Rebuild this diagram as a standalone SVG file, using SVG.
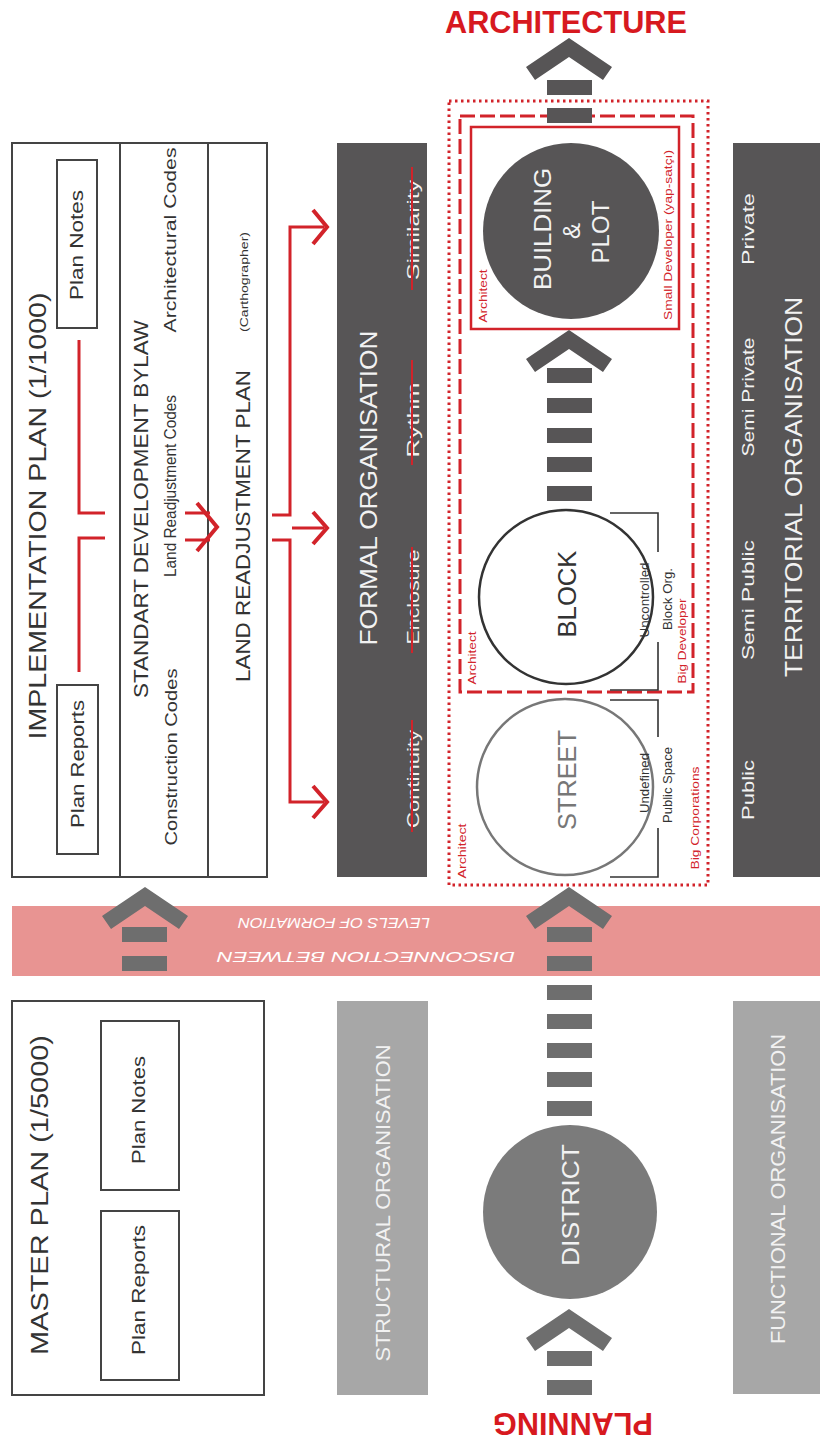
<svg xmlns="http://www.w3.org/2000/svg" width="820" height="1446" viewBox="0 0 820 1446">
<style>
text{font-family:"Liberation Sans","DejaVu Sans",sans-serif}
.box{fill:#fff;stroke:#444;stroke-width:2}
.ink{fill:#333}
.wt{fill:#f2f2f2}
.rt{fill:#d2232a}
.rl{fill:none;stroke:#d2232a;stroke-width:3}
.rh{fill:none;stroke:#d2232a;stroke-width:4}
.dark{fill:#575556}
.lg{fill:#a7a7a7}
.brk{fill:none;stroke:#333;stroke-width:1.6}
.strike{stroke:#d2232a;stroke-width:2}
.a1{fill:#575556}
.a2{fill:#6e6e6e}
</style>
<defs>
<path id="chev" d="M0,0 L-43,29 L-34,42 L0,19 L34,42 L43,29 Z"/>
<rect id="bar" x="-22.5" y="0" width="45" height="15"/>
</defs>

<!-- Implementation plan -->
<g id="implementation-plan">
<rect class="box" x="12" y="143" width="255" height="734"/>
<line x1="120" y1="143" x2="120" y2="877" stroke="#444" stroke-width="2"/>
<line x1="208" y1="143" x2="208" y2="877" stroke="#444" stroke-width="2"/>
<rect class="box" x="57" y="160" width="40" height="168"/>
<rect class="box" x="57" y="685" width="41" height="169"/>
<g class="ink" text-anchor="middle" dominant-baseline="central">
<text transform="translate(37,516) rotate(-90)" font-size="24" textLength="447" lengthAdjust="spacingAndGlyphs">IMPLEMENTATION PLAN (1/1000)</text>
<text transform="translate(77,245) rotate(-90)" font-size="18" textLength="110" lengthAdjust="spacingAndGlyphs">Plan Notes</text>
<text transform="translate(78,764) rotate(-90)" font-size="18" textLength="128" lengthAdjust="spacingAndGlyphs">Plan Reports</text>
<text transform="translate(141,509) rotate(-90)" font-size="20" textLength="378" lengthAdjust="spacingAndGlyphs">STANDART DEVELOPMENT BYLAW</text>
<text transform="translate(170,240) rotate(-90)" font-size="17" textLength="185" lengthAdjust="spacingAndGlyphs">Architectural Codes</text>
<text transform="translate(170,486) rotate(-90)" font-size="16" textLength="182" lengthAdjust="spacingAndGlyphs">Land Readjustment Codes</text>
<text transform="translate(171,757) rotate(-90)" font-size="17" textLength="177" lengthAdjust="spacingAndGlyphs">Construction Codes</text>
<text transform="translate(243,526) rotate(-90)" font-size="20" textLength="312" lengthAdjust="spacingAndGlyphs">LAND READJUSTMENT PLAN</text>
<text transform="translate(244,282) rotate(-90)" font-size="11" textLength="100" lengthAdjust="spacingAndGlyphs">(Carthographer)</text>
</g>
</g>

<!-- Formal organisation -->
<g id="formal-organisation">
<rect class="dark" x="337" y="143" width="90" height="734"/>
<g class="wt" text-anchor="middle" dominant-baseline="central">
<text transform="translate(368,488) rotate(-90)" font-size="24" textLength="315" lengthAdjust="spacingAndGlyphs">FORMAL ORGANISATION</text>
<text transform="translate(413,230) rotate(-90)" font-size="17" textLength="100" lengthAdjust="spacingAndGlyphs">Similarity</text>
<text transform="translate(413,420) rotate(-90)" font-size="17" textLength="75" lengthAdjust="spacingAndGlyphs">Rythm</text>
<text transform="translate(413,597) rotate(-90)" font-size="17" textLength="95" lengthAdjust="spacingAndGlyphs">Enclosure</text>
<text transform="translate(413,779) rotate(-90)" font-size="17" textLength="98" lengthAdjust="spacingAndGlyphs">Continuity</text>
</g>
<line class="strike" x1="412" y1="167" x2="412" y2="290"/>
<line class="strike" x1="412" y1="360" x2="412" y2="465"/>
<line class="strike" x1="412" y1="547" x2="412" y2="653"/>
<line class="strike" x1="412" y1="720" x2="412" y2="832"/>
</g>

<!-- Territorial organisation -->
<g id="territorial-organisation">
<rect class="dark" x="733" y="143" width="87" height="734"/>
<g class="wt" text-anchor="middle" dominant-baseline="central">
<text transform="translate(793,487) rotate(-90)" font-size="24" textLength="380" lengthAdjust="spacingAndGlyphs">TERRITORIAL ORGANISATION</text>
<text transform="translate(748,229) rotate(-90)" font-size="17" textLength="72" lengthAdjust="spacingAndGlyphs">Private</text>
<text transform="translate(748,397) rotate(-90)" font-size="17" textLength="119" lengthAdjust="spacingAndGlyphs">Semi Private</text>
<text transform="translate(748,600) rotate(-90)" font-size="17" textLength="120" lengthAdjust="spacingAndGlyphs">Semi Public</text>
<text transform="translate(748,790) rotate(-90)" font-size="17" textLength="60" lengthAdjust="spacingAndGlyphs">Public</text>
</g>
</g>

<!-- Actor frames -->
<g id="frames">
<rect x="449" y="101" width="259" height="784" fill="none" stroke="#d2232a" stroke-width="3" stroke-dasharray="2.5 3.5"/>
<rect x="460" y="116" width="233" height="576" fill="none" stroke="#d2232a" stroke-width="3" stroke-dasharray="15 5"/>
<rect x="471" y="127" width="208" height="202" fill="none" stroke="#d2232a" stroke-width="2.5"/>
</g>

<!-- Building & plot -->
<g id="building-plot">
<circle cx="571" cy="231" r="88" fill="#575556"/>
<g class="wt" text-anchor="middle" dominant-baseline="central" font-size="24">
<text transform="translate(542,229) rotate(-90)" textLength="122" lengthAdjust="spacingAndGlyphs">BUILDING</text>
<text transform="translate(571,231) rotate(-90)">&amp;</text>
<text transform="translate(600,232) rotate(-90)" textLength="63" lengthAdjust="spacingAndGlyphs">PLOT</text>
</g>
<g class="rt" text-anchor="middle" dominant-baseline="central" font-size="11">
<text transform="translate(483,296) rotate(-90)" textLength="53" lengthAdjust="spacingAndGlyphs">Architect</text>
<text transform="translate(668,235) rotate(-90)" textLength="170" lengthAdjust="spacingAndGlyphs">Small Developer (yap-satçı)</text>
</g>
</g>

<!-- Block -->
<g id="block">
<circle cx="566" cy="597" r="87" fill="#fff" stroke="#333" stroke-width="2.5"/>
<text class="ink" transform="translate(567,594) rotate(-90)" text-anchor="middle" dominant-baseline="central" font-size="26" textLength="87" lengthAdjust="spacingAndGlyphs">BLOCK</text>
<path class="brk" d="M610,513 H658 V552 M658,642 V690 H610"/>
<g class="ink" text-anchor="middle" dominant-baseline="central" font-size="12">
<text transform="translate(645,600) rotate(-90)" textLength="75" lengthAdjust="spacingAndGlyphs">Uncontrolled</text>
<text transform="translate(668,599) rotate(-90)" textLength="62" lengthAdjust="spacingAndGlyphs">Block Org.</text>
</g>
<g class="rt" text-anchor="middle" dominant-baseline="central" font-size="11">
<text transform="translate(472,658) rotate(-90)" textLength="53" lengthAdjust="spacingAndGlyphs">Architect</text>
<text transform="translate(682,641) rotate(-90)" textLength="85" lengthAdjust="spacingAndGlyphs">Big Developer</text>
</g>
</g>

<!-- Street -->
<g id="street">
<circle cx="565" cy="787" r="88" fill="#fff" stroke="#777" stroke-width="2.5"/>
<text transform="translate(567,780) rotate(-90)" fill="#777" text-anchor="middle" dominant-baseline="central" font-size="26" textLength="100" lengthAdjust="spacingAndGlyphs">STREET</text>
<path class="brk" d="M610,700 H658 V737 M658,828 V877 H610"/>
<g class="ink" text-anchor="middle" dominant-baseline="central" font-size="12">
<text transform="translate(645,783) rotate(-90)" textLength="60" lengthAdjust="spacingAndGlyphs">Undefined</text>
<text transform="translate(668,785) rotate(-90)" textLength="76" lengthAdjust="spacingAndGlyphs">Public Space</text>
</g>
<g class="rt" text-anchor="middle" dominant-baseline="central" font-size="11">
<text transform="translate(462,851) rotate(-90)" textLength="55" lengthAdjust="spacingAndGlyphs">Architect</text>
<text transform="translate(695,818) rotate(-90)" textLength="103" lengthAdjust="spacingAndGlyphs">Big Corporations</text>
</g>
</g>

<!-- Disconnection band -->
<g id="disconnection-band">
<rect x="12" y="906" width="808" height="70" fill="#e89492"/>
<g fill="#fff" text-anchor="middle" dominant-baseline="central" font-size="15" font-style="italic">
<text transform="translate(334,923) rotate(180)" textLength="192" lengthAdjust="spacingAndGlyphs">LEVELS OF FORMATION</text>
<text transform="translate(366,957) rotate(180)" textLength="298" lengthAdjust="spacingAndGlyphs">DISCONNECTION BETWEEN</text>
</g>
</g>

<!-- District -->
<g id="district">
<circle cx="570" cy="1212" r="87" fill="#7b7b7b"/>
<text class="wt" transform="translate(570,1205) rotate(-90)" text-anchor="middle" dominant-baseline="central" font-size="24" textLength="122" lengthAdjust="spacingAndGlyphs">DISTRICT</text>
</g>

<!-- Master plan -->
<g id="master-plan">
<rect class="box" x="12" y="1001" width="252" height="394"/>
<rect class="box" x="101" y="1021" width="78" height="169"/>
<rect class="box" x="101" y="1211" width="78" height="169"/>
<g class="ink" text-anchor="middle" dominant-baseline="central">
<text transform="translate(40,1195) rotate(-90)" font-size="23" textLength="320" lengthAdjust="spacingAndGlyphs">MASTER PLAN (1/5000)</text>
<text transform="translate(139,1110) rotate(-90)" font-size="18" textLength="108" lengthAdjust="spacingAndGlyphs">Plan Notes</text>
<text transform="translate(139,1290) rotate(-90)" font-size="18" textLength="130" lengthAdjust="spacingAndGlyphs">Plan Reports</text>
</g>
</g>

<!-- Structural organisation -->
<g id="structural-organisation">
<rect class="lg" x="337" y="1001" width="91" height="394"/>
<text class="wt" transform="translate(383,1203) rotate(-90)" text-anchor="middle" dominant-baseline="central" font-size="20" textLength="317" lengthAdjust="spacingAndGlyphs">STRUCTURAL ORGANISATION</text>
</g>

<!-- Functional organisation -->
<g id="functional-organisation">
<rect class="lg" x="733" y="1001" width="87" height="393"/>
<text class="wt" transform="translate(778,1189) rotate(-90)" text-anchor="middle" dominant-baseline="central" font-size="20" textLength="310" lengthAdjust="spacingAndGlyphs">FUNCTIONAL ORGANISATION</text>
</g>

<!-- Titles -->
<g id="architecture-title">
<text x="566" y="33" text-anchor="middle" font-size="31" font-weight="bold" fill="#d7191f" textLength="242" lengthAdjust="spacingAndGlyphs">ARCHITECTURE</text>
</g>
<g id="planning-title">
<text transform="translate(573,1423) rotate(180)" text-anchor="middle" dominant-baseline="central" font-size="31" font-weight="bold" fill="#d7191f" textLength="160" lengthAdjust="spacingAndGlyphs">PLANNING</text>
</g>

<!-- Connectors -->
<g id="connectors">
<path class="rl" d="M79,340 V513 H105 M105,538 H79 V672"/>
<path class="rl" d="M185,513 H210 M185,540 H210"/>
<path class="rh" d="M197,503 L217,527 L197,551"/>
<path class="rl" d="M272,515 H290 V227 H324 M272,540 H290 V802 H324 M292,528 H324"/>
<path class="rh" d="M313,210 L327,227 L313,244"/>
<path class="rh" d="M313,512 L327,528 L313,544"/>
<path class="rh" d="M313,786 L327,802 L313,818"/>
<g class="a1">
<use href="#chev" x="569" y="38"/>
<use href="#bar" x="569.5" y="80"/>
<use href="#bar" x="569.5" y="108"/>
<use href="#chev" x="569" y="330"/>
<use href="#bar" x="569.5" y="368"/>
<use href="#bar" x="569.5" y="398"/>
<use href="#bar" x="569.5" y="428"/>
<use href="#bar" x="569.5" y="457"/>
<use href="#bar" x="569.5" y="486"/>
</g>
<g class="a2">
<use href="#chev" x="569" y="887"/>
<use href="#bar" x="569.5" y="927"/>
<use href="#bar" x="569.5" y="956"/>
<use href="#bar" x="569.5" y="985"/>
<use href="#bar" x="569.5" y="1014"/>
<use href="#bar" x="569.5" y="1043"/>
<use href="#bar" x="569.5" y="1072"/>
<use href="#bar" x="569.5" y="1101"/>
<use href="#chev" x="569" y="1309"/>
<use href="#bar" x="569.5" y="1351"/>
<use href="#bar" x="569.5" y="1380"/>
<use href="#chev" x="145" y="887"/>
<use href="#bar" x="144.5" y="927"/>
<use href="#bar" x="144.5" y="956"/>
</g>
</g>
</svg>
